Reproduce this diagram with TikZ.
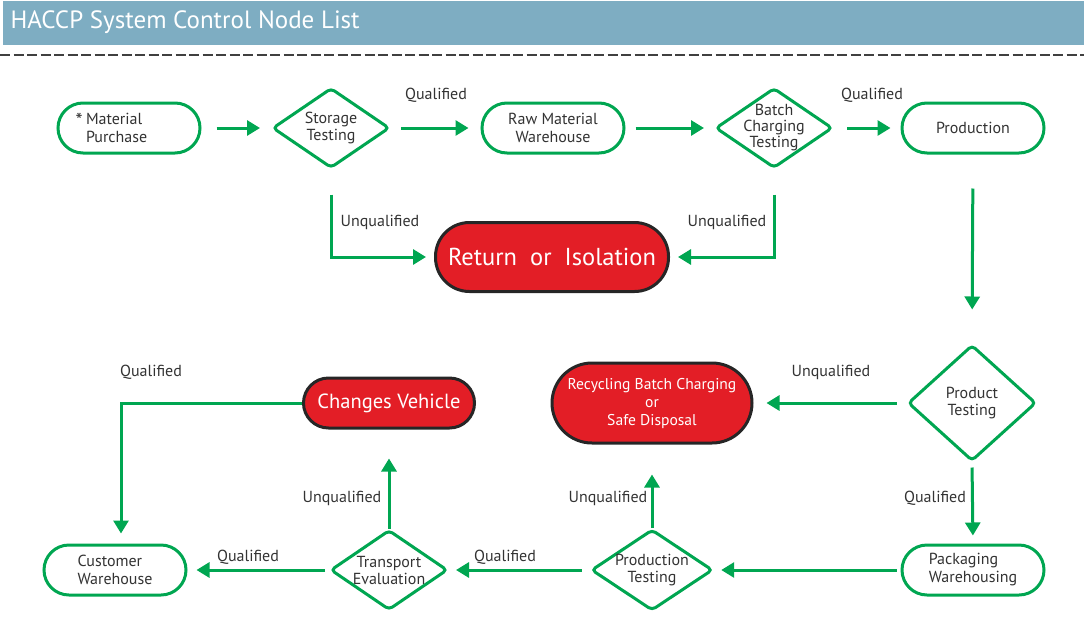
\documentclass[tikz,border=0pt]{standalone}
\usepackage{fontspec}
\setmainfont{PT Sans}
\usetikzlibrary{arrows.meta,shapes.geometric}

\definecolor{haccpgreen}{HTML}{00A651}
\definecolor{haccpred}{HTML}{E31E26}
\definecolor{haccpblue}{HTML}{7EADC2}
\definecolor{haccptext}{HTML}{333333}

\begin{document}
\begin{tikzpicture}[
    x=1pt, y=-1pt,
    store/.style={draw=haccpgreen, line width=3pt, fill=white, rounded corners=25pt,
                  minimum width=142pt, minimum height=50pt, align=center,
                  text=haccptext, font=\fontsize{16}{18}\selectfont},
    check/.style={diamond, aspect=1.5, draw=haccpgreen, line width=3pt, fill=white,
                  rounded corners=4pt, minimum width=117pt, minimum height=80pt,
                  inner sep=0pt, align=center,
                  text=haccptext, font=\fontsize{16}{17}\selectfont},
    reject/.style={draw=black!85, line width=3pt, fill=haccpred, text=white, align=center},
    flow/.style={-{Triangle[length=13pt, width=15pt]}, draw=haccpgreen, line width=3pt},
    note/.style={text=haccptext, font=\fontsize{16}{18}\selectfont},
]

    \useasboundingbox (0,0) rectangle (1084,643);
    \fill[haccpblue] (3,1) rectangle (1084,45);
    \node[text=white, anchor=west, font=\fontsize{25}{28}\selectfont] (title) at (7,22)
        {HACCP System Control Node List};
    \draw[black!75, line width=1.2pt, dash pattern=on 10pt off 3.5pt] (0,55) -- (1084,55);

    % top row
    \node[store, align=left, text width=86pt] (mp) at (129,128)
        {\makebox[0pt][r]{\fontsize{20}{18}\selectfont\raisebox{-3pt}{*}\,}Material\\Purchase};
    \node[check] (st) at (331,128) {Storage\\Testing};
    \node[store] (rmw) at (553,128) {Raw Material\\Warehouse};
    \node[check, inner sep=-4pt, font=\fontsize{16}{16}\selectfont] (bct) at (774,128)
        {Batch\\Charging\\Testing};
    \node[store] (prod) at (973,128) {Production};
    \node[reject, rounded corners=34pt, minimum width=233pt, minimum height=69pt,
          font=\fontsize{24.5}{28}\selectfont] (ret) at (552,257) {Return\ \ or\ \ Isolation};

    % middle row
    \node[check, aspect=1.1, minimum width=128pt, minimum height=116pt] (pt) at (972,403)
        {Product\\Testing};
    \node[reject, rounded corners=40pt, minimum width=200pt, minimum height=80pt,
          font=\fontsize{15.6}{18}\selectfont] (rec) at (652,403)
          {Recycling Batch Charging\\or\\Safe Disposal};
    \node[reject, rounded corners=25pt, minimum width=171pt, minimum height=50pt,
          font=\fontsize{20.5}{24}\selectfont] (cv) at (389,403) {Changes Vehicle};

    % bottom row
    \node[store, align=left] (pkg) at (973,570) {Packaging\\Warehousing};
    \node[check] (prt) at (652,570) {Production\\Testing};
    \node[check] (tr) at (389,570) {Transport\\Evaluation};
    \node[store, align=left] (cw) at (115,570) {Customer\\Warehouse};

    % connectors
    \draw[flow, shorten <=15pt, shorten >=11pt] (mp.east) -- (st.west);
    \draw[flow, shorten <=10pt, shorten >=12pt] (st.east) -- (rmw.west);
    \draw[flow, shorten <=10pt, shorten >=10pt] (rmw.east) -- (bct.west);
    \draw[flow, shorten <=13pt, shorten >=10pt] (bct.east) -- (prod.west);
    \draw[flow, shorten <=25pt, shorten >=8pt] (st.south) |- (ret.west);
    \draw[flow, shorten <=25pt, shorten >=8pt] (bct.south) |- (ret.east);
    \draw[flow, shorten <=34pt, shorten >=34pt] (prod.south) -- (pt.north);
    \draw[flow, shorten <=10pt, shorten >=13pt] (pt.west) -- (rec.east);
    \draw[flow, shorten <=5pt, shorten >=8pt] (pt.south) -- (pkg.north);
    \draw[flow, shorten <=4pt, shorten >=7pt] (pkg.west) -- (prt.east);
    \draw[flow, shorten <=8pt, shorten >=7pt] (prt.west) -- (tr.east);
    \draw[flow, shorten >=30pt] (prt.north) -- (rec.south);
    \draw[flow, shorten <=4pt, shorten >=9pt] (tr.west) -- (cw.east);
    \draw[flow, shorten >=29pt] (tr.north) -- (cv.south);
    \draw[flow, shorten >=10pt] (cv.west) -| ([xshift=6pt]cw.north);

    % labels
    \node[note] (q1) at (436,95) {Qualified};
    \node[note] (q2) at (872,95) {Qualified};
    \node[note] (u1) at (380,222) {Unqualified};
    \node[note] (u2) at (727,222) {Unqualified};
    \node[note] (u3) at (831,372) {Unqualified};
    \node[note] (q3) at (935,498) {Qualified};
    \node[note] (u4) at (608,498) {Unqualified};
    \node[note] (u5) at (342,498) {Unqualified};
    \node[note] (q4) at (505,557) {Qualified};
    \node[note] (q5) at (248,557) {Qualified};
    \node[note] (q6) at (151,372) {Qualified};

\end{tikzpicture}
\end{document}
